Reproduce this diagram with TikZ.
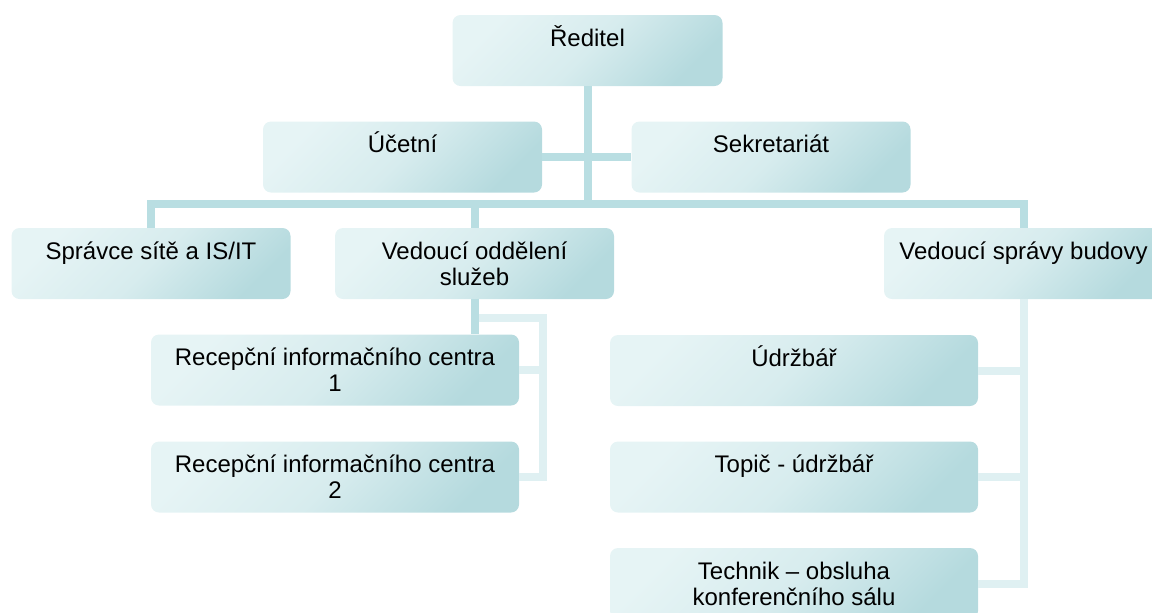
\documentclass[tikz,border=0pt]{standalone}
\usepackage{fontspec}
\setmainfont{Liberation Sans}
\usetikzlibrary{calc}
\definecolor{boxlt}{HTML}{E6F4F5}
\definecolor{boxmd}{HTML}{D7ECEE}
\definecolor{boxdk}{HTML}{B5DADE}
\definecolor{linkdk}{HTML}{B9DEE2}
\definecolor{linklt}{HTML}{DFF0F2}
\newcommand\orgfont{\fontsize{12}{13}\selectfont}
\tikzset{
    orgbox/.style 2 args={draw=none, rounded corners=4pt, inner sep=0pt,
      top color=boxlt, bottom color=boxdk, middle color=boxmd, shading angle=45,
      execute at begin node={\begin{minipage}[c][#2][t]{#1}\centering\orgfont\rule{0pt}{15.5pt}},
      execute at end node={\end{minipage}}},
    headbox/.style={orgbox={135pt}{35.5pt}},
    unitbox/.style={orgbox={139.5pt}{35.5pt}},
    subbox/.style={orgbox={184pt}{35.5pt}},
    link/.style={draw=linkdk, line width=4pt},
    sublink/.style={draw=linklt, line width=4pt},
  }
\begin{document}
\begin{tikzpicture}[x=0.5pt,y=-0.5pt]
  \useasboundingbox (0,0) rectangle (1152,612);
  \clip (0,0) rectangle (1152,612);
  %vedeni
  \node[headbox] (red) at (587.5,50.5) {Ředitel};
  \node[unitbox] (uce) at (402.5,157) {Účetní};
  \node[unitbox] (sek) at (771,157) {Sekretariát};
  %useky
  \node[unitbox] (spr) at (151,263.5) {Správce sítě a IS/IT};
  \node[unitbox] (ved) at (474.5,263.5) {Vedoucí oddělení\\služeb};
  \node[unitbox] (bud) at (1023.5,263.5) {Vedoucí správy budovy};
  %podrizeni
  \node[subbox] (rec1) at (335,370) {Recepční informačního centra\\1};
  \node[subbox] (rec2) at (335,477) {Recepční informačního centra};
  \node[subbox] (udr) at (794,370.5) {Údržbář};
  \node[subbox] (topic) at (794,477) {Topič - údržbář};
  \node[subbox] (tech) at (794,583.5) {Technik – obsluha\\konferenčního sálu};
  \begin{scope}
    \clip (151,442) rectangle (519,497);
    \node[anchor=base, inner sep=0pt, font=\orgfont] (rec2b) at (335,498.5) {2};
  \end{scope}
  %spojnice
  \coordinate (bus) at (587.5,204);
  \coordinate (svc) at (543,318);
  \draw[sublink] (ved.south |- svc) -- (svc) |- (rec2.east);
  \draw[sublink] (svc |- rec1.east) -- (rec1.east);
  \draw[sublink] (bud.south) |- (tech.east);
  \draw[sublink] (bud.south |- udr.east) -- (udr.east);
  \draw[sublink] (bud.south |- topic.east) -- (topic.east);
  \draw[link] (red.south) -- (bus);
  \draw[link] (uce.east) -- (sek.west);
  \draw[link] (spr.north) |- (bus) -| (bud.north);
  \draw[link] (ved.north) -- (ved.north |- bus);
  \draw[link] (ved.south) -- (ved.south |- rec1.north);
\end{tikzpicture}
\end{document}
